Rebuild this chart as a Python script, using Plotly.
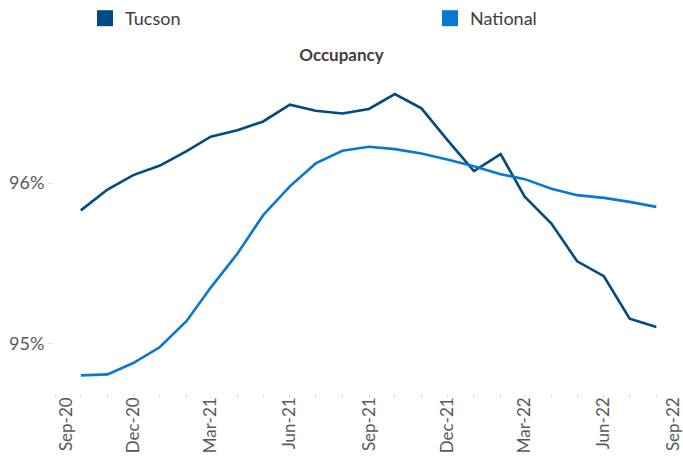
import pandas as pd
import plotly.graph_objects as go

months = pd.date_range("2020-10-01", periods=23, freq="MS")
tucson = [95.83, 95.96, 96.05, 96.11, 96.20, 96.29, 96.33, 96.385, 96.49, 96.452, 96.435,
          96.463, 96.556, 96.467, 96.27, 96.075, 96.181, 95.915, 95.748, 95.512, 95.419,
          95.154, 95.102]
national = [94.80, 94.806, 94.877, 94.977, 95.14, 95.348, 95.56, 95.80, 95.98, 96.123,
            96.202, 96.227, 96.2125, 96.185, 96.148, 96.106, 96.056, 96.025, 95.965,
            95.925, 95.908, 95.883, 95.852]
tick_dates = ["2020-09-14", "2020-12-01", "2021-03-01", "2021-06-01", "2021-09-01",
              "2021-12-01", "2022-03-01", "2022-06-01", "2022-08-21"]
tick_labels = ["Sep-20", "Dec-20", "Mar-21", "Jun-21", "Sep-21", "Dec-21", "Mar-22",
               "Jun-22", "Sep-22"]
y_ticks = [95, 96]
y_tick_labels = ["95%", "96%"]

c_tucson = "#034A82"
c_national = "#0A78D2"
FONT = "Lato"

fig = go.Figure()
fig.add_trace(go.Scatter(x=months, y=tucson, mode="lines", line=dict(color=c_tucson, width=2.6),
                         showlegend=False, name="Tucson", hoverinfo="skip"))
fig.add_trace(go.Scatter(x=months, y=national, mode="lines", line=dict(color=c_national, width=2.6),
                         showlegend=False, name="National", hoverinfo="skip"))
fig.add_trace(go.Scatter(x=[None], y=[None], mode="markers", name="Tucson", legend="legend",
                         marker=dict(symbol="square", size=16, color=c_tucson)))
fig.add_trace(go.Scatter(x=[None], y=[None], mode="markers", name="National", legend="legend2",
                         marker=dict(symbol="square", size=16, color=c_national)))

leg_common = dict(orientation="h", xref="container", yref="container", xanchor="left",
                  yanchor="top", y=1.0, bgcolor="rgba(0,0,0,0)",
                  font=dict(family=FONT, size=18, color="#404040"))

fig.update_layout(
    width=683, height=465,
    margin=dict(l=55, r=0, t=71, b=72, autoexpand=False),
    paper_bgcolor="white", plot_bgcolor="white",
    font=dict(family=FONT, color="#595959"),
    title=dict(text="<b>Occupancy</b>", x=0.5, xref="container", xanchor="center",
               y=1 - 55 / 465, yref="container", yanchor="middle",
               font=dict(family=FONT, size=17, color="#404040")),
    legend=dict(x=85 / 683, **leg_common),
    legend2=dict(x=430 / 683, **leg_common),
    xaxis=dict(type="date", range=["2020-09-01", "2022-09-01"],
               tickmode="array", tickvals=tick_dates, ticktext=tick_labels,
               tickangle=-90, ticks="", showgrid=False, zeroline=False, showline=False,
               automargin=False, ticklabeloverflow="allow",
               tickfont=dict(family=FONT, size=17, color="#595959"),
               minor=dict(dtick="M1", tick0="2020-09-01", ticks="outside", ticklen=4,
                          tickcolor="#e3e3e3", showgrid=False),
               fixedrange=True),
    yaxis=dict(range=[94.69, 96.7], tickmode="array", tickvals=y_ticks, ticktext=y_tick_labels,
               ticks="outside", ticklen=6, tickcolor="#e6e6e6", showgrid=False, zeroline=False,
               showline=False, automargin=False, fixedrange=True,
               tickfont=dict(family=FONT, size=18, color="#595959")),
)

fig.write_html("out.html", config={"displayModeBar": False, "staticPlot": True},
               post_script="document.body.style.margin='0';")
